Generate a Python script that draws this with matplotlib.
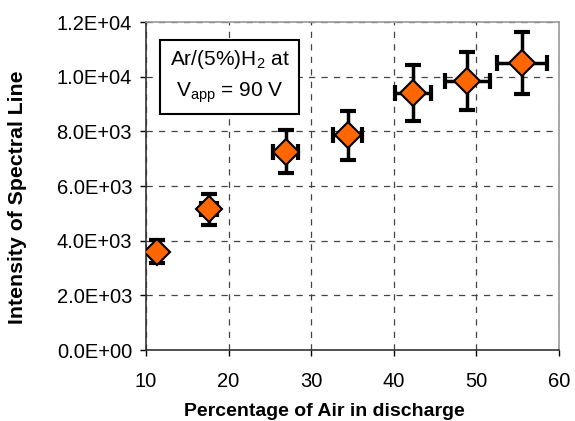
import numpy as np
import matplotlib
matplotlib.use("Agg")
import matplotlib.pyplot as plt

plt.rcParams["font.family"] = ["Liberation Sans", "DejaVu Sans"]
plt.rcParams["mathtext.fontset"] = "custom"
plt.rcParams["mathtext.rm"] = "Liberation Sans"
plt.rcParams["mathtext.it"] = "Liberation Sans"

# ── data ──────────────────────────────────────────────────────────────────────
air_pct = [11.3, 17.6, 26.9, 34.4, 42.3, 48.9, 55.5]
intensity = [3600, 5150, 7250, 7850, 9400, 9850, 10500]
y_err = [420, 560, 790, 880, 1020, 1060, 1140]
x_err = [0.6, 1.0, 1.5, 1.8, 2.2, 2.7, 3.0]

x_ticks = [10, 20, 30, 40, 50, 60]
y_ticks = [0, 2000, 4000, 6000, 8000, 10000, 12000]
y_tick_labels = ["0.0E+00", "2.0E+03", "4.0E+03", "6.0E+03", "8.0E+03", "1.0E+04", "1.2E+04"]

# ── figure ────────────────────────────────────────────────────────────────────
fig = plt.figure(figsize=(5.75, 4.21), dpi=100, facecolor="white")
ax = fig.add_axes([0.2539, 0.1686, 0.7183, 0.7791])

ax.errorbar(air_pct, intensity, yerr=y_err, xerr=x_err, fmt="none",
            ecolor="black", elinewidth=2.5, capsize=6, capthick=3, zorder=3)
ax.plot(air_pct, intensity, linestyle="none", marker="D", markersize=13,
        markerfacecolor="#ff6600", markeredgecolor="black", markeredgewidth=1.5,
        zorder=4)

ax.set_xlim(10, 60)
ax.set_ylim(0, 12000)
ax.set_xticks(x_ticks)
ax.set_yticks(y_ticks)
ax.set_yticklabels(y_tick_labels)
ax.tick_params(direction="out", length=4, width=1, labelsize=14.5, colors="black")
ax.tick_params(axis="y", pad=6)
ax.tick_params(axis="x", pad=12)

ax.grid(True, color="#444444", linestyle=(0, (5, 5)), linewidth=0.9)
ax.set_axisbelow(True)

for side in ["left", "bottom"]:
    ax.spines[side].set_color("#333333")
    ax.spines[side].set_linewidth(1.2)
for side in ["top", "right"]:
    ax.spines[side].set_color("#999999")
    ax.spines[side].set_linewidth(1.2)

fig.text(0.564, 0.012, "Percentage of Air in discharge", ha="center", va="baseline",
         fontsize=14, fontweight="bold")
fig.text(0.031, 0.532, "Intensity of Spectral Line", ha="center", va="center",
         rotation=90, fontsize=15.3, fontweight="bold")

ax.text(0.202, 0.835, "Ar/(5%)H$_2$ at\nV$_{app}$ = 90 V", transform=ax.transAxes,
        ha="center", va="center", fontsize=15, linespacing=1.6,
        bbox=dict(boxstyle="square,pad=0.45", facecolor="white", edgecolor="black",
                  linewidth=1.5), zorder=5)

fig.savefig("out.png", dpi=100, facecolor="white")
